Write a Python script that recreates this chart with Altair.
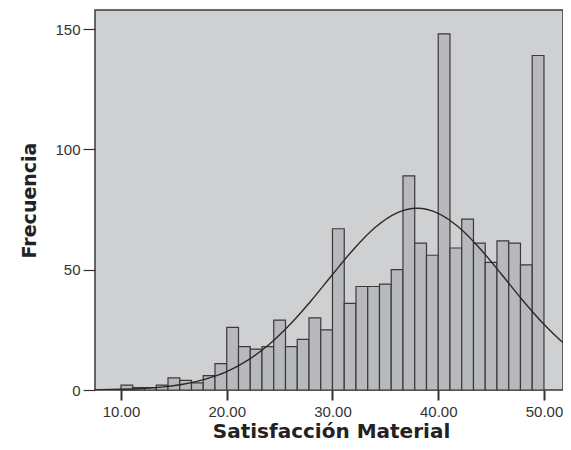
import altair as alt
import pandas as pd

# Histogram: 36 bins from 10 to 50
bin_low = 10.0
bin_high = 50.0
counts = [2, 1, 1, 2, 5, 4, 3, 6, 11,
          26, 18, 17, 18, 29, 18, 21, 30, 25,
          67, 36, 43, 43, 44, 50, 89, 61, 56,
          148, 59, 71, 61, 53, 62, 61, 52, 139]

# Normal curve
curve_x = [7, 8, 10, 12, 14, 16, 18, 20, 22, 24, 26, 28, 30, 32, 34, 36, 38,
           40, 42, 44, 46, 48, 50, 52, 53]
curve_y = [0.08, 0.13, 0.3, 0.63, 1.3, 2.5, 4.5, 7.6, 12.4, 18.9, 27.3, 37.2,
           48.0, 58.5, 67.4, 73.4, 75.5, 73.4, 67.4, 58.5, 48.0, 37.2, 27.3,
           18.9, 15.4]

x_ticks = [10, 20, 30, 40, 50]
y_ticks = [0, 50, 100, 150]

n_bins = len(counts)
w = (bin_high - bin_low) / n_bins
bars = pd.DataFrame({
    "lo": [bin_low + i * w for i in range(n_bins)],
    "hi": [bin_low + (i + 1) * w for i in range(n_bins)],
    "count": counts,
})
curve = pd.DataFrame({"x": curve_x, "y": curve_y})

xscale = alt.Scale(domain=[7.54, 51.80], nice=False, zero=False)
yscale = alt.Scale(domain=[0, 157.9], nice=False)

xaxis = alt.Axis(
    values=x_ticks, format=".2f", title="Satisfacción Material",
    grid=False, domain=False, tickSize=10, tickWidth=2, tickColor="#333333",
    labelFont="Liberation Sans", labelFontSize=15, labelColor="#333333",
    labelPadding=4,
    titleFont="DejaVu Sans", titleFontSize=20, titleFontWeight="bold",
    titleColor="#222222", titleBaseline="alphabetic", titleY=47,
    titleX=236,
)
yaxis = alt.Axis(
    values=y_ticks, title="Frecuencia",
    grid=False, domain=False, tickSize=12, tickWidth=1.2, tickColor="#333333",
    labelFont="Liberation Sans", labelFontSize=15, labelColor="#333333",
    labelPadding=3,
    titleFont="DejaVu Sans", titleFontSize=19, titleFontWeight="bold",
    titleColor="#222222", titleBaseline="alphabetic", titleX=-60, titleY=190,
    titleAngle=270,
)

bar_layer = alt.Chart(bars).mark_bar(
    fill="#b8b9bc", stroke="#3a3a3a", strokeWidth=1.2
).encode(
    x=alt.X("lo:Q", scale=xscale, axis=xaxis),
    x2="hi:Q",
    y=alt.Y("count:Q", scale=yscale, axis=yaxis),
    y2=alt.datum(0),
)

line_layer = alt.Chart(curve).mark_line(
    color="#2a2a2a", strokeWidth=1.4, interpolate="monotone", clip=True
).encode(
    x=alt.X("x:Q", scale=xscale),
    y=alt.Y("y:Q", scale=yscale),
)

chart = alt.layer(bar_layer, line_layer).properties(
    width=468, height=380,
    autosize=alt.AutoSizeParams(type="none"),
    padding={"left": 87, "top": 2, "right": 0, "bottom": 52},
    background="white",
).configure_view(
    fill="#cfd0d2", stroke="#3a3a3a", strokeWidth=1.5
)

chart.save("out.html", embed_options={"renderer": "svg", "actions": False})
